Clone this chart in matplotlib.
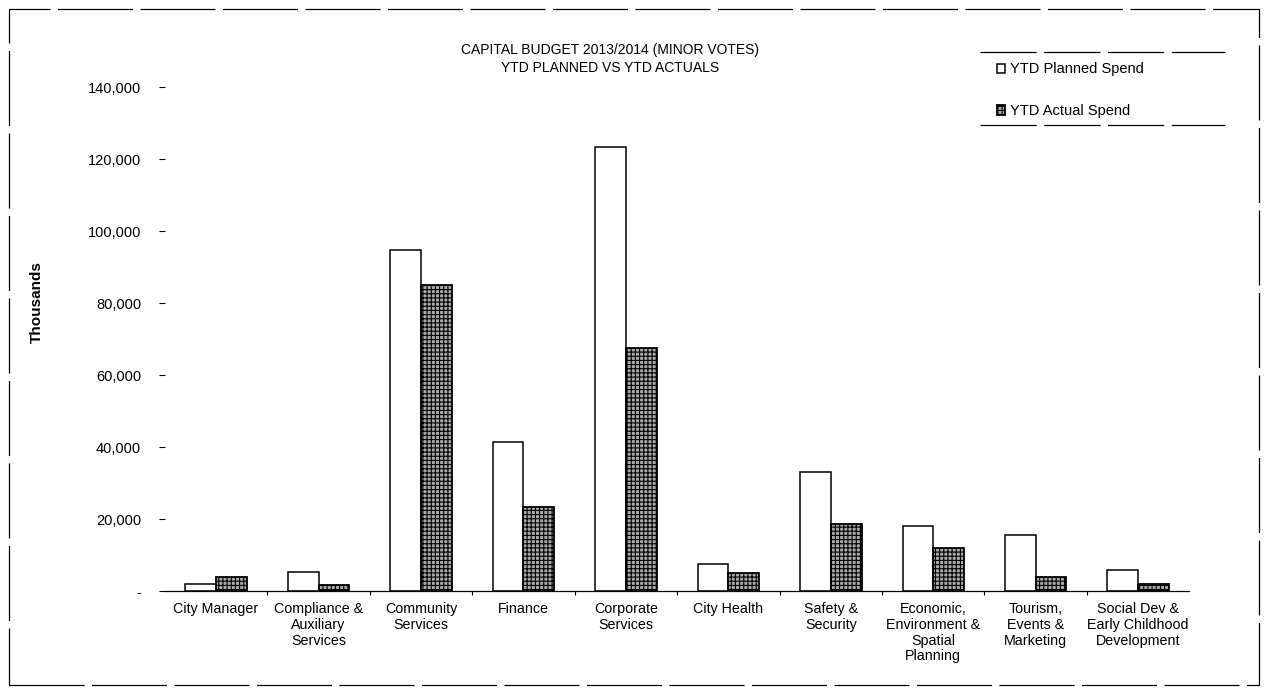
import matplotlib.pyplot as plt
import matplotlib.patches as mpatches
from matplotlib.lines import Line2D
import numpy as np
from matplotlib.ticker import FuncFormatter, FixedLocator

plt.rcParams['font.family'] = ['Liberation Sans', 'DejaVu Sans']
plt.rcParams['hatch.color'] = '#3c3c3c'
plt.rcParams['hatch.linewidth'] = 0.8

departments = [
    "City Manager",
    "Compliance &\nAuxiliary\nServices",
    "Community\nServices",
    "Finance",
    "Corporate\nServices",
    "City Health",
    "Safety &\nSecurity",
    "Economic,\nEnvironment &\nSpatial\nPlanning",
    "Tourism,\nEvents &\nMarketing",
    "Social Dev &\nEarly Childhood\nDevelopment",
]
# YTD spend, thousands
planned = [2100, 5300, 94800, 41400, 123500, 7600, 33000, 18000, 15500, 5800]
actual = [4000, 1700, 85200, 23500, 67600, 5000, 18600, 12000, 4000, 2000]

y_ticks = [0, 20000, 40000, 60000, 80000, 100000, 120000, 140000]

fig = plt.figure(figsize=(12.68, 6.93), dpi=100)
ax = fig.add_axes([0.130, 0.147, 0.808, 0.727])

x = np.arange(len(departments))
w = 0.3
ax.bar(x - w / 2, planned, w, color='white', edgecolor='black', linewidth=1.1,
       label='YTD Planned Spend')
ax.bar(x + w / 2, actual, w, color='#a8a8a8', edgecolor='black', linewidth=1.3,
       hatch='++++', label='YTD Actual Spend')

ax.set_xlim(-0.5, len(departments) - 0.5)
ax.set_ylim(0, 140000)
ax.set_yticks(y_ticks)
ax.yaxis.set_major_formatter(FuncFormatter(lambda v, p: '-' if v == 0 else f'{int(v):,}'))
ax.tick_params(axis='y', length=4, width=0.8, pad=13, labelsize=10.5)
ax.set_xticks(x)
ax.set_xticklabels(departments, fontsize=10.3, linespacing=1.15)
ax.tick_params(axis='x', length=0, pad=8)
ax.xaxis.set_minor_locator(FixedLocator(x[:-1] + 0.5))
ax.tick_params(axis='x', which='minor', length=3, width=0.8)

for side in ['top', 'right', 'left']:
    ax.spines[side].set_visible(False)
ax.spines['bottom'].set_linewidth(0.9)

ax.set_ylabel('Thousands', fontsize=11, fontweight='bold')
ax.yaxis.set_label_coords(-0.118, 0.574)

fig.text(0.481, 0.915, 'CAPITAL BUDGET 2013/2014 (MINOR VOTES)\nYTD PLANNED VS YTD ACTUALS',
         ha='center', va='center', fontsize=10, linespacing=1.4)

leg = fig.legend(loc='upper left', bbox_to_anchor=(0.786, 0.91), fontsize=10.5,
                 frameon=False, handlelength=0.6, handleheight=0.6, handletextpad=0.3,
                 labelspacing=1.9, borderpad=0, borderaxespad=0)

# legend box: only the top and bottom rules
for yy in (0.925, 0.819):
    fig.lines.append(Line2D([0.773, 0.966], [yy, yy], transform=fig.transFigure,
                            color='black', linewidth=0.9, linestyle=(0, (45, 6))))

# outer page frame
fig.patches.append(mpatches.Rectangle((0.007, 0.012), 0.986, 0.975, transform=fig.transFigure,
                                      fill=False, edgecolor='black', linewidth=0.9,
                                      linestyle=(0, (60, 6))))

fig.savefig('out.png', dpi=100)
